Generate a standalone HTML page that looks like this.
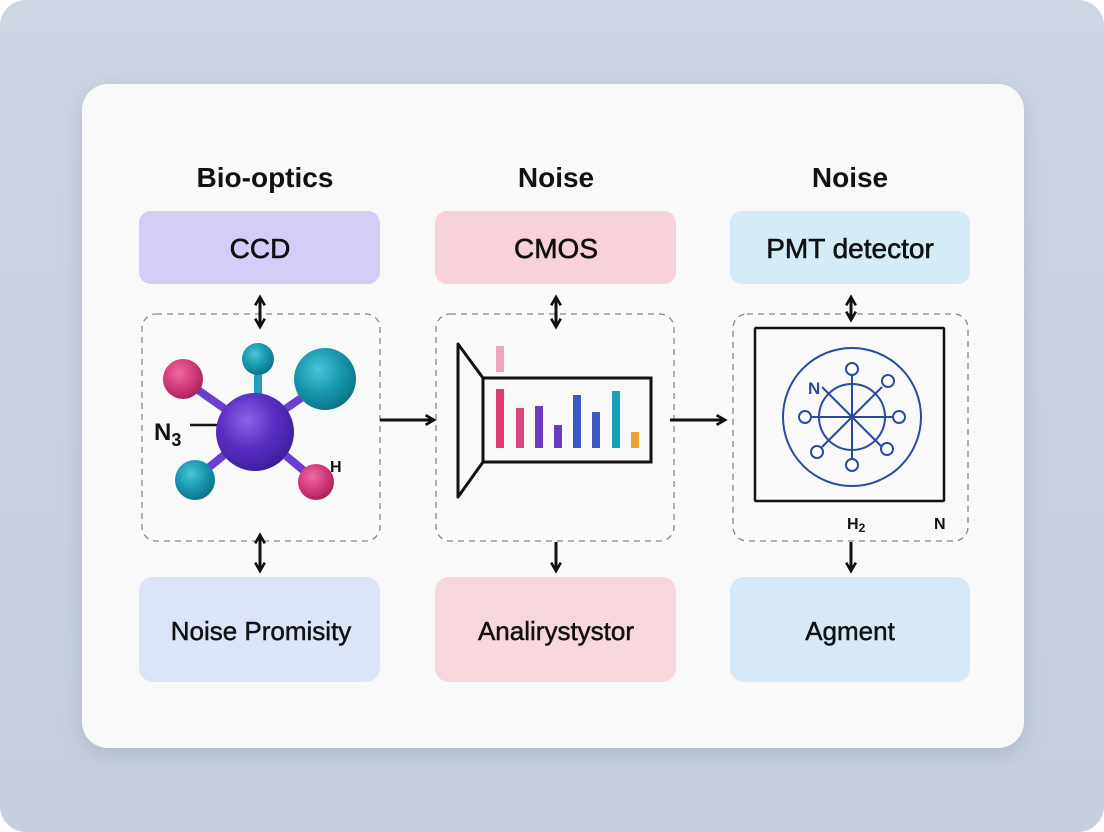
<!DOCTYPE html>
<html><head><meta charset="utf-8"><style>
html,body{margin:0;padding:0;width:1104px;height:832px;overflow:hidden;background:#fff}
</style></head><body>
<svg width="1104" height="832" viewBox="0 0 1104 832" xmlns="http://www.w3.org/2000/svg" font-family="Liberation Sans, sans-serif">
<defs>
<linearGradient id="bg" x1="0" y1="0" x2="0" y2="1"><stop offset="0" stop-color="#cdd4e2"/><stop offset="1" stop-color="#c6cedd"/></linearGradient>
<filter id="sh" x="-10%" y="-10%" width="120%" height="125%"><feDropShadow dx="0" dy="6" stdDeviation="10" flood-color="#8090a8" flood-opacity="0.35"/></filter>
<marker id="ah" viewBox="0 0 10 10" refX="8" refY="5" markerWidth="4" markerHeight="4" orient="auto-start-reverse"><path d="M1,1 L8,5 L1,9" fill="none" stroke="#111" stroke-width="2.2"/></marker>
<radialGradient id="gp" cx="0.4" cy="0.35" r="0.7"><stop offset="0" stop-color="#8a64e8"/><stop offset="0.5" stop-color="#5a2fc4"/><stop offset="1" stop-color="#3b1c98"/></radialGradient>
<radialGradient id="gt" cx="0.4" cy="0.35" r="0.7"><stop offset="0" stop-color="#4cc4d4"/><stop offset="0.55" stop-color="#1597ae"/><stop offset="1" stop-color="#0c6f84"/></radialGradient>
<radialGradient id="gk" cx="0.4" cy="0.35" r="0.7"><stop offset="0" stop-color="#ee6aa0"/><stop offset="0.55" stop-color="#d23a7a"/><stop offset="1" stop-color="#a02058"/></radialGradient>
</defs>
<rect x="0" y="0" width="1104" height="832" rx="26" fill="url(#bg)"/>
<rect x="82" y="84" width="942" height="664" rx="26" fill="#f9f9fa" filter="url(#sh)"/>

<g font-size="28" font-weight="bold" text-anchor="middle" fill="#111">
<text x="265" y="187">Bio-optics</text>
<text x="556" y="187">Noise</text>
<text x="850" y="187">Noise</text>
</g>

<rect x="139" y="211" width="241" height="73" rx="12" fill="#d4cef7"/>
<rect x="435" y="211" width="241" height="73" rx="12" fill="#f7d2d9"/>
<rect x="730" y="211" width="240" height="73" rx="12" fill="#d5ebf5"/>
<g font-size="28" text-anchor="middle" fill="#111" stroke="#111" stroke-width="0.6">
<text x="260" y="258">CCD</text>
<text x="556" y="258">CMOS</text>
<text x="850" y="258">PMT detector</text>
</g>

<rect x="139" y="577" width="241" height="105" rx="14" fill="#dbe5f7"/>
<rect x="435" y="577" width="241" height="105" rx="14" fill="#f6d8dc"/>
<rect x="730" y="577" width="240" height="105" rx="14" fill="#d7e9f6"/>
<g font-size="26" text-anchor="middle" fill="#111" stroke="#111" stroke-width="0.5">
<text x="261" y="640">Noise Promisity</text>
<text x="556" y="640">Analirystystor</text>
<text x="850" y="640">Agment</text>
</g>

<g fill="none" stroke="#888" stroke-width="1.3" stroke-dasharray="6 5">
<rect x="142" y="314" width="238" height="227" rx="14"/>
<rect x="436" y="314" width="238" height="227" rx="14"/>
<rect x="733" y="314" width="235" height="227" rx="14"/>
</g>

<g stroke="#111" stroke-width="3" marker-start="url(#ah)" marker-end="url(#ah)">
<line x1="260" y1="297" x2="260" y2="327"/>
<line x1="556" y1="297" x2="556" y2="327"/>
<line x1="851" y1="297" x2="851" y2="320"/>
<line x1="260" y1="535" x2="260" y2="571"/>
</g>
<g stroke="#111" stroke-width="3" marker-end="url(#ah)">
<line x1="556" y1="542" x2="556" y2="571"/>
<line x1="851" y1="542" x2="851" y2="571"/>
<line x1="380" y1="420" x2="434" y2="420"/>
<line x1="670" y1="420" x2="725" y2="420"/>
</g>

<!-- molecule -->
<g stroke="#6a3fd0" stroke-width="8" stroke-linecap="round">
<line x1="255" y1="430" x2="188" y2="383"/>
<line x1="255" y1="430" x2="320" y2="385"/>
<line x1="255" y1="430" x2="197" y2="477"/>
<line x1="255" y1="430" x2="315" y2="480"/>
</g>
<line x1="258" y1="430" x2="258" y2="362" stroke="#1fa0b5" stroke-width="8"/>
<line x1="190" y1="425" x2="218" y2="425" stroke="#111" stroke-width="2.5"/>
<circle cx="183" cy="379" r="20" fill="url(#gk)"/>
<circle cx="258" cy="359" r="16" fill="url(#gt)"/>
<circle cx="325" cy="379" r="31" fill="url(#gt)"/>
<circle cx="255" cy="432" r="39" fill="url(#gp)"/>
<circle cx="195" cy="480" r="20" fill="url(#gt)"/>
<circle cx="316" cy="482" r="18" fill="url(#gk)"/>
<text x="154" y="440" font-size="24" font-weight="bold" fill="#111">N<tspan font-size="18" dy="6">3</tspan></text>
<text x="330" y="472" font-size="16" font-weight="bold" fill="#111">H</text>

<!-- chart -->
<path d="M458,344 L483,378 L483,462 L458,497 Z" fill="none" stroke="#111" stroke-width="3" stroke-linejoin="round"/>
<rect x="483" y="378" width="168" height="84" fill="none" stroke="#111" stroke-width="3"/>
<rect x="496" y="346" width="8" height="26" fill="#f0a3ba"/>
<g>
<rect x="496" y="389" width="8" height="59" fill="#e23c74"/>
<rect x="516" y="408" width="8" height="40" fill="#d9457e"/>
<rect x="535" y="406" width="8" height="42" fill="#6d3bbf"/>
<rect x="554" y="425" width="8" height="23" fill="#6a3bbf"/>
<rect x="573" y="395" width="8" height="53" fill="#3d57c6"/>
<rect x="592" y="412" width="8" height="36" fill="#3d57c6"/>
<rect x="612" y="391" width="8" height="57" fill="#17a2b8"/>
<rect x="631" y="432" width="8" height="16" fill="#f0a030"/>
</g>

<!-- PMT -->
<rect x="755" y="328" width="189" height="173" fill="none" stroke="#111" stroke-width="2.5" rx="1"/>
<g fill="none" stroke="#2a4aa0" stroke-width="2">
<circle cx="852" cy="417" r="69"/>
<circle cx="852" cy="417" r="33"/>
<line x1="852" y1="375" x2="852" y2="459"/>
<line x1="810" y1="417" x2="894" y2="417"/>
<line x1="822" y1="387" x2="882" y2="447"/>
<line x1="882" y1="387" x2="822" y2="447"/>
<g fill="#fff">
<circle cx="852" cy="369" r="6"/><circle cx="852" cy="465" r="6"/>
<circle cx="805" cy="417" r="6"/><circle cx="899" cy="417" r="6"/>
<circle cx="888" cy="381" r="6"/><circle cx="817" cy="452" r="6"/>
<circle cx="887" cy="449" r="6"/>
</g>
</g>
<text x="808" y="394" font-size="17" font-weight="bold" fill="#2a4aa0">N</text>
<text x="847" y="529" font-size="16" font-weight="bold" fill="#111">H<tspan font-size="12" dy="3">2</tspan></text>
<text x="934" y="529" font-size="16" font-weight="bold" fill="#111">N</text>
</svg>
</body></html>
